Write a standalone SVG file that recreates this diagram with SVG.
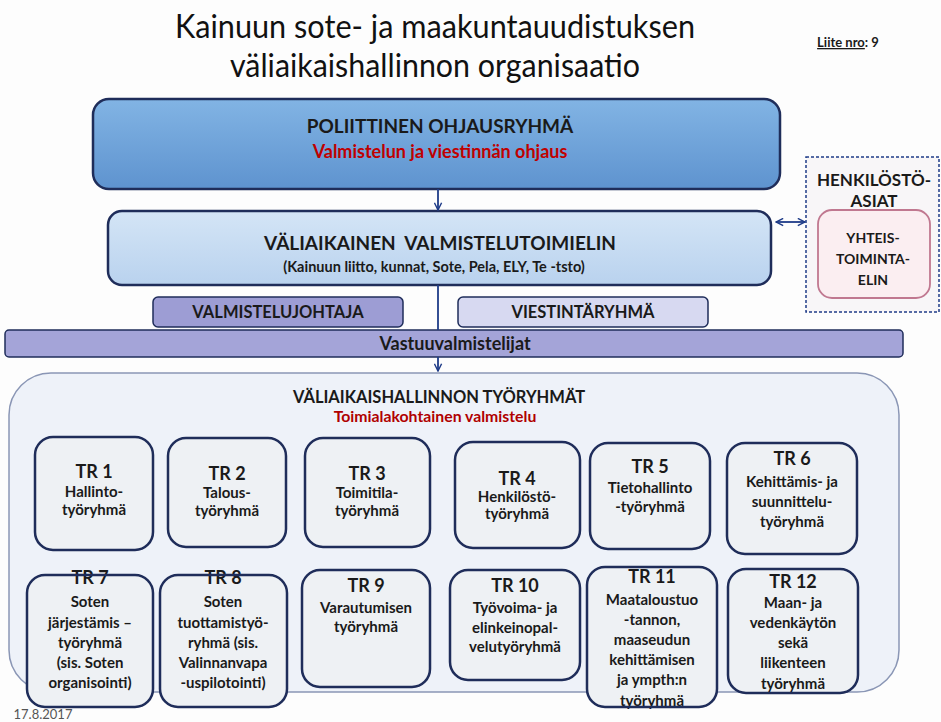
<svg xmlns="http://www.w3.org/2000/svg" width="941" height="722" viewBox="0 0 941 722">
<defs>
<linearGradient id="gPol" x1="0" y1="0" x2="0" y2="1"><stop offset="0" stop-color="#82b4e4"/><stop offset="1" stop-color="#5e93cf"/></linearGradient>
<linearGradient id="gVal" x1="0" y1="0" x2="0" y2="1"><stop offset="0" stop-color="#d4e5f6"/><stop offset="1" stop-color="#b9d2ee"/></linearGradient>
<marker id="ah" viewBox="0 0 10 10" refX="9" refY="5" markerWidth="9" markerHeight="9" orient="auto-start-reverse" markerUnits="userSpaceOnUse"><path d="M1,1 L9,5 L1,9" fill="none" stroke="#1f3c88" stroke-width="1.6"/></marker>
</defs>
<style>
text{font-family:Lato,"Liberation Sans",sans-serif;text-anchor:middle;font-weight:bold;fill:#1a1a1a}
.title{font-weight:normal;font-size:33px;fill:#111}
.red{fill:#c00000}
.tr{fill:#eef1f4;stroke:#1f2d5a;stroke-width:2.5}
.trf{fill:#eef1f4}
.tro{fill:none;stroke:#1f2d5a;stroke-width:2.5}
.lbl{font-size:18px}
.body{font-size:15px}
.conn{stroke:#1f3c88;stroke-width:1.8;fill:none}
</style>
<rect width="941" height="722" fill="#fdfdfd"/>

<g id="title">
<text class="title" x="435" y="38" textLength="520" lengthAdjust="spacingAndGlyphs">Kainuun sote- ja maakuntauudistuksen</text>
<text class="title" x="435" y="77" textLength="410" lengthAdjust="spacingAndGlyphs">väliaikaishallinnon organisaatio</text>
<text x="848" y="47" style="font-size:13px"><tspan text-decoration="underline">Liite nro</tspan>: 9</text>
</g>

<g id="poliittinen">
<rect x="93" y="99" width="687" height="90" rx="16" fill="url(#gPol)" stroke="#1f2d5a" stroke-width="2.5"/>
<text x="440" y="133" style="font-size:19px">POLIITTINEN OHJAUSRYHMÄ</text>
<text class="red" x="440" y="158" style="font-size:18px">Valmistelun ja viestinnän ohjaus</text>
</g>

<g id="valiaikainen">
<rect x="108" y="211" width="663" height="74" rx="14" fill="url(#gVal)" stroke="#1f2d5a" stroke-width="2.5"/>
<text x="440" y="250" style="font-size:19px" xml:space="preserve">VÄLIAIKAINEN  VALMISTELUTOIMIELIN</text>
<text x="434" y="272" style="font-size:14.5px">(Kainuun liitto, kunnat, Sote, Pela, ELY, Te -tsto)</text>
</g>

<g id="henkilosto">
<rect x="806" y="157" width="133" height="155" fill="#f8f6f8" stroke="#1f3c88" stroke-width="1.5" stroke-dasharray="3,2"/>
<text x="874" y="186" style="font-size:17px">HENKILÖSTÖ-</text>
<text x="874" y="207" style="font-size:17px">ASIAT</text>
<g id="yhteistoimintaelin">
<rect x="818" y="210" width="112" height="88" rx="14" fill="#fbeef1" stroke="#c07890" stroke-width="1.8"/>
<text x="873" y="243" style="font-size:14px">YHTEIS-</text>
<text x="873" y="264" style="font-size:14px">TOIMINTA-</text>
<text x="873" y="285" style="font-size:14px">ELIN</text>
</g>
</g>

<g id="valmistelujohtaja">
<rect x="153" y="297" width="250" height="30" rx="5" fill="#9d9dd4" stroke="#1f2d5a" stroke-width="1.5"/>
<text x="278" y="318" style="font-size:16.5px">VALMISTELUJOHTAJA</text>
</g>
<g id="viestintaryhma">
<rect x="458" y="297" width="250" height="30" rx="5" fill="#d7d9f1" stroke="#1f2d5a" stroke-width="1.5"/>
<text x="583" y="318" style="font-size:16.5px">VIESTINTÄRYHMÄ</text>
</g>
<g id="vastuuvalmistelijat">
<rect x="5" y="330" width="898" height="27" rx="4" fill="#a4a4d8" stroke="#1f2d5a" stroke-width="1.5"/>
<text x="455" y="350" style="font-size:18px">Vastuuvalmistelijat</text>
</g>

<g id="tyoryhmat">
<rect x="9" y="373" width="890" height="319" rx="42" fill="#eef2f9" stroke="#8a96b5" stroke-width="1.5"/>
<text x="439" y="403" style="font-size:16.5px">VÄLIAIKAISHALLINNON TYÖRYHMÄT</text>
<text class="red" x="435" y="422" style="font-size:15.8px;fill:#b00000">Toimialakohtainen valmistelu</text>
</g>

<g id="tr1"><rect class="tr" x="35" y="437" width="118" height="113" rx="18"/>
<text class="lbl" x="94" y="478">TR 1</text><text class="body" x="94" y="497">Hallinto-</text><text class="body" x="94" y="515">työryhmä</text></g>
<g id="tr2"><rect class="tr" x="168" y="438" width="118" height="109" rx="18"/>
<text class="lbl" x="227" y="480">TR 2</text><text class="body" x="227" y="498">Talous-</text><text class="body" x="227" y="516">työryhmä</text></g>
<g id="tr3"><rect class="tr" x="305" y="438" width="125" height="109" rx="18"/>
<text class="lbl" x="367" y="480">TR 3</text><text class="body" x="367" y="498">Toimitila-</text><text class="body" x="367" y="516">työryhmä</text></g>
<g id="tr4"><rect class="tr" x="455" y="442" width="125" height="106" rx="18"/>
<text class="lbl" x="517" y="485">TR 4</text><text class="body" x="517" y="502">Henkilöstö-</text><text class="body" x="517" y="519">työryhmä</text></g>
<g id="tr5"><rect class="tr" x="590" y="443" width="120" height="106" rx="18"/>
<text class="lbl" x="650" y="473">TR 5</text><text class="body" x="650" y="493">Tietohallinto</text><text class="body" x="650" y="512">-työryhmä</text></g>
<g id="tr6"><rect class="tr" x="727" y="443" width="130" height="111" rx="18"/>
<text class="lbl" x="792" y="465">TR 6</text><text class="body" x="792" y="487">Kehittämis- ja</text><text class="body" x="792" y="507">suunnittelu-</text><text class="body" x="792" y="527">työryhmä</text></g>

<g id="tr7"><rect class="trf" x="27" y="575" width="126" height="132" rx="18"/>
<text class="lbl" x="90" y="584">TR 7</text>
<text class="body" x="90" y="607">Soten</text><text class="body" x="90" y="628">järjestämis –</text><text class="body" x="90" y="648">työryhmä</text><text class="body" x="90" y="668">(sis. Soten</text><text class="body" x="90" y="688">organisointi)</text>
<rect class="tro" x="27" y="575" width="126" height="132" rx="18"/></g>
<g id="tr8"><rect class="trf" x="160" y="575" width="127" height="132" rx="18"/>
<text class="lbl" x="223" y="584">TR 8</text>
<text class="body" x="223" y="607">Soten</text><text class="body" x="223" y="628">tuottamistyö-</text><text class="body" x="223" y="648">ryhmä (sis.</text><text class="body" x="223" y="668">Valinnanvapa</text><text class="body" x="223" y="688">-uspilotointi)</text>
<rect class="tro" x="160" y="575" width="127" height="132" rx="18"/></g>
<g id="tr9"><rect class="tr" x="302" y="570" width="128" height="117" rx="18"/>
<text class="lbl" x="366" y="592">TR 9</text><text class="body" x="366" y="613">Varautumisen</text><text class="body" x="366" y="632">työryhmä</text></g>
<g id="tr10"><rect class="tr" x="450" y="570" width="130" height="110" rx="18"/>
<text class="lbl" x="515" y="592">TR 10</text><text class="body" x="515" y="613">Työvoima- ja</text><text class="body" x="515" y="633">elinkeinopal-</text><text class="body" x="515" y="652">velutyöryhmä</text></g>
<g id="tr11"><rect class="trf" x="587" y="567" width="130" height="140" rx="18"/>
<text class="lbl" x="652" y="583">TR 11</text><text class="body" x="652" y="605">Maataloustuo</text><text class="body" x="652" y="625">-tannon,</text><text class="body" x="652" y="645">maaseudun</text><text class="body" x="652" y="665">kehittämisen</text><text class="body" x="652" y="685">ja ympth:n</text><text class="body" x="652" y="706">työryhmä</text>
<rect class="tro" x="587" y="567" width="130" height="140" rx="18"/></g>
<g id="tr12"><rect class="trf" x="728" y="569" width="130" height="124" rx="18"/>
<text class="lbl" x="793" y="588">TR 12</text><text class="body" x="793" y="608">Maan- ja</text><text class="body" x="793" y="628">vedenkäytön</text><text class="body" x="793" y="648">sekä</text><text class="body" x="793" y="668">liikenteen</text><text class="body" x="793" y="689">työryhmä</text>
<rect class="tro" x="728" y="569" width="130" height="124" rx="18"/></g>

<g id="connectors">
<line class="conn" x1="438" y1="189" x2="438" y2="210" marker-end="url(#ah)"/>
<line class="conn" x1="438" y1="285" x2="438" y2="330"/>
<line class="conn" x1="438" y1="357" x2="438" y2="371" marker-end="url(#ah)"/>
<line class="conn" x1="776" y1="222" x2="805" y2="222" stroke="#2a55a8" marker-start="url(#ah)" marker-end="url(#ah)"/>
</g>

<text x="43" y="719" style="font-size:13px;font-weight:normal;fill:#555">17.8.2017</text>
</svg>
